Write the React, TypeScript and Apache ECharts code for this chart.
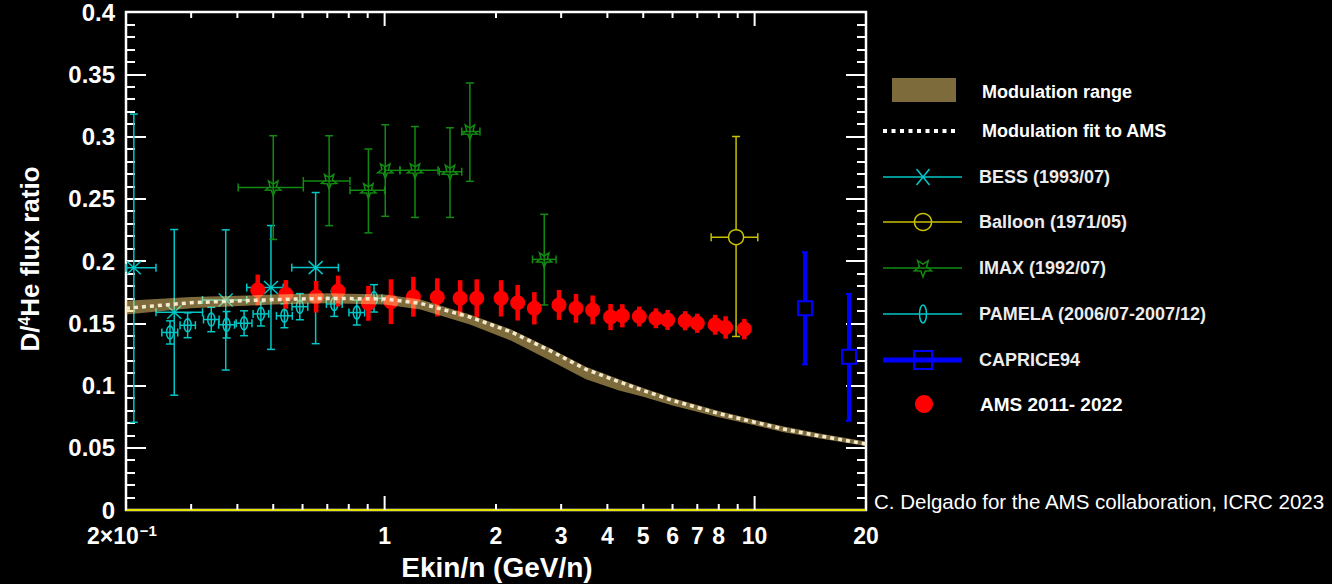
import React, { useEffect, useRef } from 'react';
import * as echarts from 'echarts';

// ---------------- data ----------------
const modelE = [0.2, 0.3, 0.5, 0.7, 1.0, 1.25, 1.7, 2.2, 2.8, 3.5, 4.3, 5, 6, 8, 10, 12, 15, 20];
const modelFit = [0.162, 0.1665, 0.169, 0.170, 0.1695, 0.166, 0.155, 0.143, 0.128, 0.113, 0.103, 0.096, 0.088, 0.0775, 0.0705, 0.065, 0.0595, 0.053];
const bandLo = [0.157, 0.162, 0.165, 0.166, 0.165, 0.161, 0.149, 0.136, 0.120, 0.105, 0.096, 0.091, 0.084, 0.0745, 0.068, 0.0625, 0.0575, 0.0515];
const bandHi = [0.168, 0.171, 0.173, 0.174, 0.173, 0.169, 0.157, 0.145, 0.130, 0.115, 0.105, 0.098, 0.090, 0.0795, 0.0725, 0.067, 0.0615, 0.055];

const amsE = [0.454, 0.541, 0.653, 0.749, 0.904, 1.04, 1.196, 1.388, 1.60, 1.774, 2.064, 2.289, 2.539, 2.96, 3.29, 3.65, 4.08, 4.39, 4.88, 5.41, 5.82, 6.49, 7.0, 7.82, 8.35, 9.38];
const amsR = [0.1767, 0.1732, 0.1713, 0.1759, 0.166, 0.1673, 0.1713, 0.1708, 0.170, 0.170, 0.170, 0.1665, 0.162, 0.1647, 0.162, 0.1607, 0.155, 0.156, 0.1554, 0.154, 0.1527, 0.152, 0.150, 0.1488, 0.1466, 0.1453];
const amsErr = [0.0124, 0.0115, 0.0127, 0.0124, 0.014, 0.018, 0.016, 0.0153, 0.0146, 0.0153, 0.0146, 0.0143, 0.013, 0.012, 0.0116, 0.0116, 0.0105, 0.0093, 0.008, 0.008, 0.008, 0.0077, 0.0077, 0.008, 0.009, 0.0082];

const bessE = [0.210, 0.270, 0.372, 0.493, 0.651];
const bessR = [0.1946, 0.1588, 0.1687, 0.1787, 0.1947];
const bessXLo = [0.2, 0.241, 0.322, 0.424, 0.561];
const bessXHi = [0.241, 0.322, 0.424, 0.532, 0.750];
const bessYLo = [0.0704, 0.0922, 0.1124, 0.129, 0.1336];
const bessYHi = [0.318, 0.2253, 0.225, 0.2285, 0.255];

const pamelaE = [0.263, 0.2935, 0.340, 0.374, 0.417, 0.463, 0.536, 0.590, 0.731, 0.841, 0.936];
const pamelaR = [0.1426, 0.1484, 0.153, 0.1488, 0.150, 0.1575, 0.156, 0.1633, 0.1655, 0.1586, 0.170];
const pamelaErr = [0.0093, 0.01, 0.0098, 0.0106, 0.01, 0.0097, 0.0096, 0.0105, 0.01, 0.01, 0.011];
const pamelaXLo = [0.250, 0.280, 0.324, 0.356, 0.397, 0.441, 0.510, 0.562, 0.696, 0.801, 0.891];
const pamelaXHi = [0.276, 0.308, 0.357, 0.393, 0.438, 0.486, 0.563, 0.620, 0.768, 0.883, 0.983];

const imaxE = [0.5, 0.708, 0.904, 1.004, 1.208, 1.502, 1.70, 2.70];
const imaxR = [0.259, 0.2643, 0.2568, 0.2728, 0.2728, 0.2717, 0.304, 0.2013];
const imaxXLo = [0.402, 0.603, 0.806, 1.0, 1.1, 1.405, 1.616, 2.51];
const imaxXHi = [0.603, 0.806, 1.0, 1.1, 1.394, 1.616, 1.81, 2.906];
const imaxYLo = [0.2173, 0.2284, 0.2226, 0.2359, 0.235, 0.235, 0.264, 0.1647];
const imaxYHi = [0.3006, 0.3006, 0.290, 0.3094, 0.308, 0.307, 0.343, 0.2375];

const balloonE = [8.91];
const balloonR = [0.2191];
const balloonXLo = [7.63];
const balloonXHi = [10.2];
const balloonYLo = [0.1394];
const balloonYHi = [0.300];

const capriceE = [13.68, 17.99];
const capriceR = [0.162, 0.123];
const capriceYLo = [0.117, 0.0717];
const capriceYHi = [0.207, 0.1735];

const xTickVals = [0.2, 0.3, 0.4, 0.5, 0.6, 0.7, 0.8, 0.9, 1, 2, 3, 4, 5, 6, 7, 8, 9, 10, 20];
const xTickLabels = ['2×10|−1', '', '', '', '', '', '', '', '1', '2', '3', '4', '5', '6', '7', '8', '', '10', '20'];

const legendNames = ['Modulation range', 'Modulation fit to AMS', 'BESS (1993/07)', 'Balloon (1971/05)', 'IMAX (1992/07)', 'PAMELA (2006/07-2007/12)', 'CAPRICE94', 'AMS 2011- 2022'];

// ---------------- styles ----------------
const FONT = '"Liberation Sans", Arial, Helvetica, sans-serif';
const CYAN = '#00c8c8';
const GREEN = '#128a12';
const YELLOW = '#c8c000';
const BLUE = '#0000ff';
const RED = '#ff0000';
const BAND = 'rgba(250,214,120,0.5)';

function starPoints(cx: number, cy: number, ro: number, ri: number) {
  const pts: number[][] = [];
  for (let i = 0; i < 10; i++) {
    const a = Math.PI / 2 + (i * Math.PI) / 5;
    const r = i % 2 ? ri : ro;
    pts.push([cx + r * Math.cos(a), cy + r * Math.sin(a)]);
  }
  return pts;
}

function markerEls(kind: string, cx: number, cy: number, legend: boolean): any[] {
  switch (kind) {
    case 'bess': {
      const w = legend ? 6.5 : 7, h = legend ? 8 : 6.5;
      const st = { stroke: CYAN, lineWidth: 1.5 };
      return [
        { type: 'line', shape: { x1: cx - w, y1: cy - h, x2: cx + w, y2: cy + h }, style: st },
        { type: 'line', shape: { x1: cx - w, y1: cy + h, x2: cx + w, y2: cy - h }, style: st },
      ];
    }
    case 'balloon':
      return [{ type: 'circle', shape: { cx, cy, r: legend ? 8.5 : 7.5 }, style: { stroke: YELLOW, lineWidth: 1.5, fill: legend ? 'none' : '#000' } }];
    case 'imax':
      return [{ type: 'polygon', shape: { points: starPoints(cx, cy, legend ? 9 : 8, legend ? 3.8 : 3.4) }, style: { stroke: GREEN, lineWidth: 1.5, fill: 'none' } }];
    case 'pamela':
      return [{ type: 'ellipse', shape: { cx, cy, rx: 3.5, ry: legend ? 9 : 6.5 }, style: { stroke: CYAN, lineWidth: 1.5, fill: 'none' } }];
    case 'caprice': {
      const s = legend ? 18 : 14;
      return [{ type: 'rect', shape: { x: cx - s / 2, y: cy - s / 2, width: s, height: s }, style: { stroke: BLUE, lineWidth: 2, fill: legend ? 'none' : '#000' } }];
    }
    case 'ams':
      return [{ type: 'circle', shape: { cx, cy, r: legend ? 9 : 7.5 }, style: { fill: RED } }];
  }
  return [];
}

function errRender(kind: string, color: string, lw: number, cap: number) {
  return (params: any, api: any) => {
    const x = api.value(0), y = api.value(1);
    const xl = api.value(2), xh = api.value(3), yl = api.value(4), yh = api.value(5);
    const c = api.coord([x, y]);
    const st = { stroke: color, lineWidth: lw, fill: 'none' };
    const capSt = { stroke: color, lineWidth: Math.min(lw, 2), fill: 'none' };
    const ch: any[] = [];
    if (xh > xl) {
      const pL = api.coord([xl, y]);
      const pH = api.coord([xh, y]);
      ch.push({ type: 'line', shape: { x1: pL[0], y1: c[1], x2: pH[0], y2: c[1] }, style: st });
      if (cap > 0) {
        ch.push({ type: 'line', shape: { x1: pL[0], y1: c[1] - cap, x2: pL[0], y2: c[1] + cap }, style: capSt });
        ch.push({ type: 'line', shape: { x1: pH[0], y1: c[1] - cap, x2: pH[0], y2: c[1] + cap }, style: capSt });
      }
    }
    if (yh > yl) {
      const pB = api.coord([x, yl]);
      const pT = api.coord([x, yh]);
      ch.push({ type: 'line', shape: { x1: c[0], y1: pB[1], x2: c[0], y2: pT[1] }, style: st });
      if (cap > 0) {
        ch.push({ type: 'line', shape: { x1: c[0] - cap, y1: pB[1], x2: c[0] + cap, y2: pB[1] }, style: capSt });
        ch.push({ type: 'line', shape: { x1: c[0] - cap, y1: pT[1], x2: c[0] + cap, y2: pT[1] }, style: capSt });
      }
    }
    ch.push(...markerEls(kind, c[0], c[1], false));
    return { type: 'group', children: ch };
  };
}

function errSeries(name: string, kind: string, color: string, lw: number, cap: number, data: number[][], z: number) {
  return {
    name,
    type: 'custom',
    coordinateSystem: 'cartesian2d',
    dimensions: ['x', 'y', 'xl', 'xh', 'yl', 'yh'],
    encode: { x: 0, y: 1 },
    renderItem: errRender(kind, color, lw, cap),
    data,
    z,
    silent: true,
  };
}

function tickRender(params: any, api: any) {
  const v = api.value(0);
  const p = api.coord([v, 0]);
  const cs = params.coordSys;
  const lg = Math.log10(v);
  const major = Math.abs(lg - Math.round(lg)) < 1e-9;
  const len = major ? 14 : 6;
  const st = { stroke: '#fff', lineWidth: 2 };
  const bottom = cs.y + cs.height;
  const ch: any[] = [
    { type: 'line', shape: { x1: p[0], y1: bottom, x2: p[0], y2: bottom - len }, style: st },
    { type: 'line', shape: { x1: p[0], y1: cs.y, x2: p[0], y2: cs.y + len }, style: st },
  ];
  const lab = xTickLabels[params.dataIndex];
  if (lab) {
    let text = '{a|' + lab + '}';
    if (lab.indexOf('|') >= 0) {
      const parts = lab.split('|');
      text = '{a|' + parts[0] + '}{s|' + parts[1] + '}';
    }
    ch.push({
      type: 'text',
      x: p[0] - (lab.indexOf('|') >= 0 ? 4 : 0),
      y: bottom + 26,
      style: {
        text,
        align: 'center',
        verticalAlign: 'middle',
        rich: {
          a: { fill: '#fff', fontSize: 23, fontWeight: 'bold', fontFamily: FONT },
          s: { fill: '#fff', fontSize: 15, fontWeight: 'bold', fontFamily: FONT, verticalAlign: 'top', padding: [0, 0, 12, 1] },
        },
      },
    });
  }
  return { type: 'group', children: ch };
}

function bandRender(params: any, api: any) {
  if (params.dataIndex !== 0) return { type: 'group', children: [] };
  const top = modelE.map((e, i) => api.coord([e, bandHi[i]]));
  const bot = modelE.map((e, i) => api.coord([e, bandLo[i]])).reverse();
  return { type: 'polygon', shape: { points: top.concat(bot) }, style: { fill: BAND, stroke: 'none' } };
}

function buildLegend(): any[] {
  const els: any[] = [];
  const txt = (t: string, x: number, y: number, size: number, color: string) => ({
    type: 'text', x, y,
    style: { text: t, fill: color, font: 'bold ' + size + 'px ' + FONT, align: 'left', verticalAlign: 'middle' },
  });
  els.push({ type: 'rect', shape: { x: 892, y: 78, width: 64, height: 24 }, style: { fill: BAND } });
  els.push(txt(legendNames[0], 982, 92, 18, '#fff'));
  els.push({ type: 'line', shape: { x1: 883, y1: 131, x2: 959, y2: 131 }, style: { stroke: '#fff', lineWidth: 4, lineDash: [4, 4.5] } });
  els.push(txt(legendNames[1], 982, 131, 18, '#fff'));
  const rows = [
    { kind: 'bess', color: CYAN, lw: 1.5, y: 177 },
    { kind: 'balloon', color: YELLOW, lw: 1.5, y: 222 },
    { kind: 'imax', color: GREEN, lw: 1.5, y: 268 },
    { kind: 'pamela', color: CYAN, lw: 1.5, y: 314 },
    { kind: 'caprice', color: BLUE, lw: 5, y: 360 },
  ];
  rows.forEach((r, i) => {
    els.push({ type: 'line', shape: { x1: 883, y1: r.y, x2: 962, y2: r.y }, style: { stroke: r.color, lineWidth: r.lw } });
    els.push(...markerEls(r.kind, 923, r.y, true));
    els.push(txt(legendNames[2 + i], 979, r.y, 18, '#ececec'));
  });
  els.push(...markerEls('ams', 924, 404, true));
  els.push(txt(legendNames[7], 980, 404, 19, '#fff'));
  return els;
}

export default function App() {
  const ref = useRef<HTMLDivElement>(null);
  useEffect(() => {
    if (!ref.current) return;
    const chart = echarts.init(ref.current, undefined, { renderer: 'svg' });
    const yAxisBase = {
      type: 'value',
      min: 0,
      max: 0.4,
      interval: 0.05,
      axisLine: { show: false },
      axisTick: { show: true, inside: true, length: 20, lineStyle: { color: '#fff', width: 2 } },
      minorTick: { show: true, splitNumber: 5, length: 9, lineStyle: { color: '#fff', width: 2 } },
      splitLine: { show: false },
      minorSplitLine: { show: false },
    };
    const option: any = {
      animation: false,
      backgroundColor: '#000',
      textStyle: { fontFamily: FONT },
      grid: { left: 126, right: 466, top: 8, bottom: 74, show: true, borderColor: '#fff', borderWidth: 2.5, backgroundColor: 'transparent' },
      xAxis: {
        type: 'log', logBase: 10, min: 0.2, max: 20,
        axisLine: { show: false }, axisTick: { show: false }, axisLabel: { show: false }, splitLine: { show: false },
      },
      yAxis: [
        {
          ...yAxisBase,
          position: 'left',
          axisLabel: {
            color: '#fff', fontSize: 24, fontWeight: 'bold', fontFamily: FONT, margin: 11,
            formatter: (v: number) => String(Math.round(v * 100) / 100),
          },
        },
        { ...yAxisBase, position: 'right', axisLabel: { show: false } },
      ],
      graphic: [
        ...buildLegend(),
        {
          type: 'text', x: 30, y: 259, rotation: Math.PI / 2,
          style: {
            text: '{a|D/}{s|4}{a|He flux ratio}',
            align: 'center', verticalAlign: 'middle',
            rich: {
              a: { fill: '#fff', fontSize: 26, fontWeight: 'bold', fontFamily: FONT },
              s: { fill: '#fff', fontSize: 16, fontWeight: 'bold', fontFamily: FONT, verticalAlign: 'top', padding: [0, 0, 12, 0] },
            },
          },
        },
        {
          type: 'text', x: 497, y: 567,
          style: { text: 'Ekin/n (GeV/n)', fill: '#fff', font: 'bold 28px ' + FONT, align: 'center', verticalAlign: 'middle' },
        },
        {
          type: 'text', x: 874, y: 501,
          style: { text: 'C. Delgado for the AMS collaboration, ICRC 2023', fill: '#fff', font: '20.5px ' + FONT, align: 'left', verticalAlign: 'middle' },
        },
      ],
      series: [
        {
          type: 'custom',
          coordinateSystem: 'cartesian2d',
          renderItem: tickRender,
          data: xTickVals.map((v) => [v, 0]),
          encode: { x: 0, y: 1 },
          silent: true,
          z: 20,
        },
        errSeries('PAMELA (2006/07-2007/12)', 'pamela', CYAN, 1.5, 4,
          pamelaE.map((e, i) => [e, pamelaR[i], pamelaXLo[i], pamelaXHi[i], pamelaR[i] - pamelaErr[i], pamelaR[i] + pamelaErr[i]]), 3),
        errSeries('BESS (1993/07)', 'bess', CYAN, 1.5, 4,
          bessE.map((e, i) => [e, bessR[i], bessXLo[i], bessXHi[i], bessYLo[i], bessYHi[i]]), 3),
        errSeries('IMAX (1992/07)', 'imax', GREEN, 1.5, 4,
          imaxE.map((e, i) => [e, imaxR[i], imaxXLo[i], imaxXHi[i], imaxYLo[i], imaxYHi[i]]), 3),
        errSeries('Balloon (1971/05)', 'balloon', YELLOW, 1.5, 4,
          balloonE.map((e, i) => [e, balloonR[i], balloonXLo[i], balloonXHi[i], balloonYLo[i], balloonYHi[i]]), 3),
        errSeries('CAPRICE94', 'caprice', BLUE, 4, 3,
          capriceE.map((e, i) => [e, capriceR[i], e, e, capriceYLo[i], capriceYHi[i]]), 3),
        errSeries('AMS 2011- 2022', 'ams', RED, 4.5, 0,
          amsE.map((e, i) => [e, amsR[i], e, e, amsR[i] - amsErr[i], amsR[i] + amsErr[i]]), 4),
        {
          name: 'Modulation range',
          type: 'custom',
          coordinateSystem: 'cartesian2d',
          renderItem: bandRender,
          data: modelE.map((e, i) => [e, bandLo[i], bandHi[i]]),
          encode: { x: 0, y: [1, 2] },
          silent: true,
          z: 6,
        },
        {
          name: 'Modulation fit to AMS',
          type: 'line',
          symbol: 'none',
          data: modelE.map((e, i) => [e, modelFit[i]]),
          lineStyle: { color: '#f3ead0', width: 3.5, type: [4, 4] },
          silent: true,
          z: 7,
          markLine: {
            silent: true,
            symbol: ['none', 'none'],
            label: { show: false },
            lineStyle: { color: '#e6e600', width: 2, type: 'solid' },
            data: [{ yAxis: 0 }],
          },
        },
      ],
    };
    chart.setOption(option);
    return () => chart.dispose();
  }, []);
  return <div ref={ref} style={{ position: 'fixed', left: 0, top: 0, width: 1332, height: 584 }} />;
}
